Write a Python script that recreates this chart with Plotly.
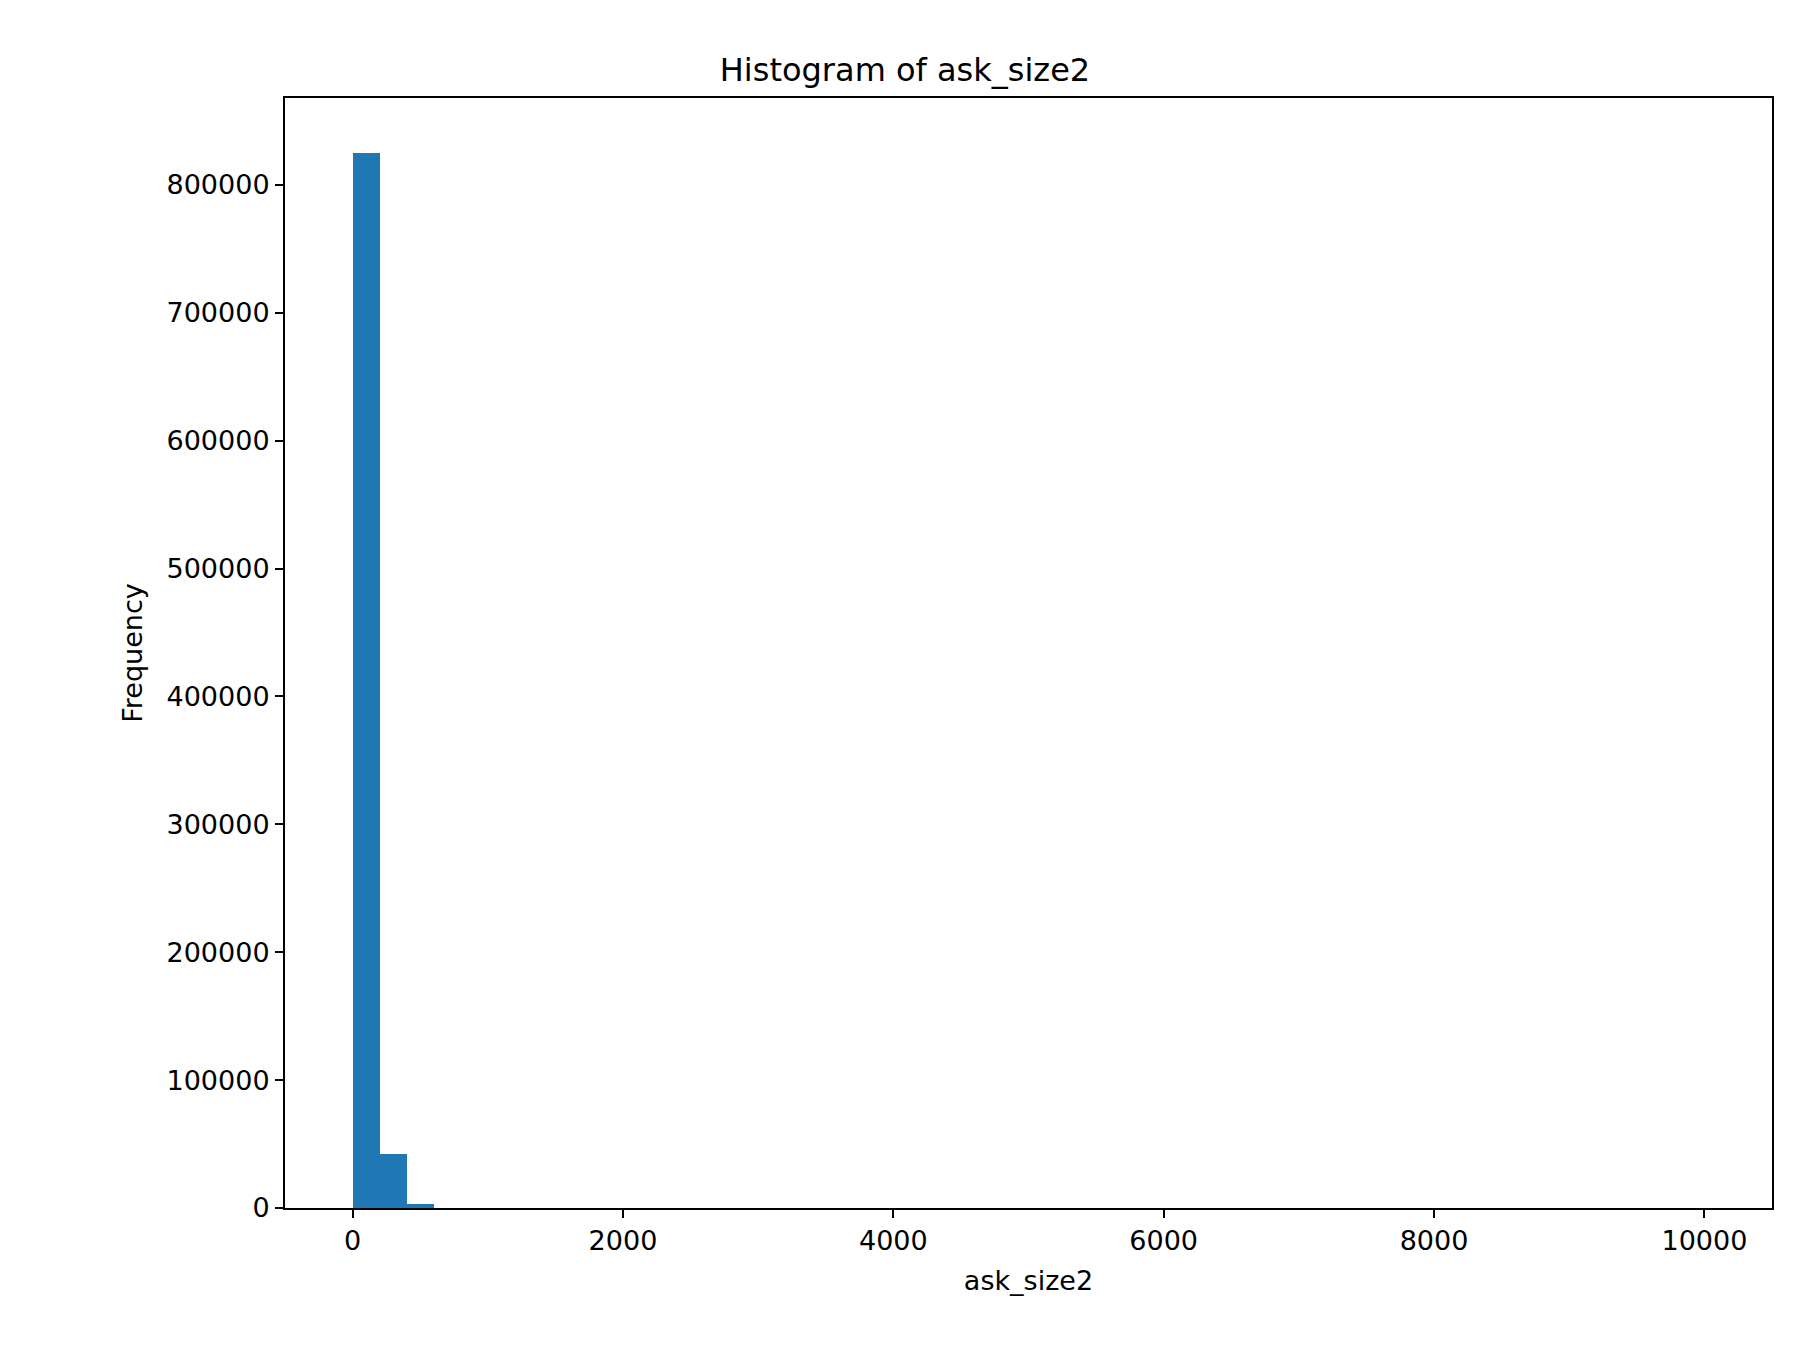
import plotly.graph_objects as go

bin_start = 0
bin_width = 200
# counts per bin of width 200 from 0 to 10000; the tail is too small to see
counts = [825000, 42000, 3500, 0, 0, 0, 0, 0, 0, 0,
          0, 0, 0, 0, 0, 0, 0, 0, 0, 0,
          0, 0, 0, 0, 0, 0, 0, 0, 0, 0,
          0, 0, 0, 0, 0, 0, 0, 0, 0, 0,
          0, 0, 0, 0, 0, 0, 0, 0, 0, 0]
x_ticks = [0, 2000, 4000, 6000, 8000, 10000]
y_ticks = list(range(0, 800001, 100000))

centers = [bin_start + bin_width * (i + 0.5) for i in range(len(counts))]

fig = go.Figure(go.Bar(x=centers, y=counts, width=bin_width,
                       marker=dict(color="#1f77b4", line=dict(width=0))))

axis_common = dict(showline=True, linecolor="black", linewidth=2, mirror=True,
                   ticks="outside", ticklen=8, tickwidth=2, tickcolor="black",
                   showgrid=False, zeroline=False,
                   tickfont=dict(family="DejaVu Sans", size=27, color="black"),
                   title_font=dict(family="DejaVu Sans", size=27, color="black"))

fig.update_layout(
    width=1794, height=1362,
    paper_bgcolor="white", plot_bgcolor="white",
    margin=dict(l=277, r=30, t=90, b=162),
    title=dict(text="Histogram of ask_size2", x=0.5, xanchor="center", y=0.963,
               font=dict(family="DejaVu Sans", size=32, color="black")),
    bargap=0,
    showlegend=False,
)
fig.update_xaxes(range=[-500, 10500], tickvals=x_ticks, ticktext=[str(v) for v in x_ticks],
                 title_text="ask_size2", title_standoff=16, **axis_common)
fig.update_yaxes(range=[0, 868000], tickvals=y_ticks, ticktext=[str(v) for v in y_ticks],
                 title_text="Frequency", title_standoff=16, **axis_common)

fig.write_html("out.html")
